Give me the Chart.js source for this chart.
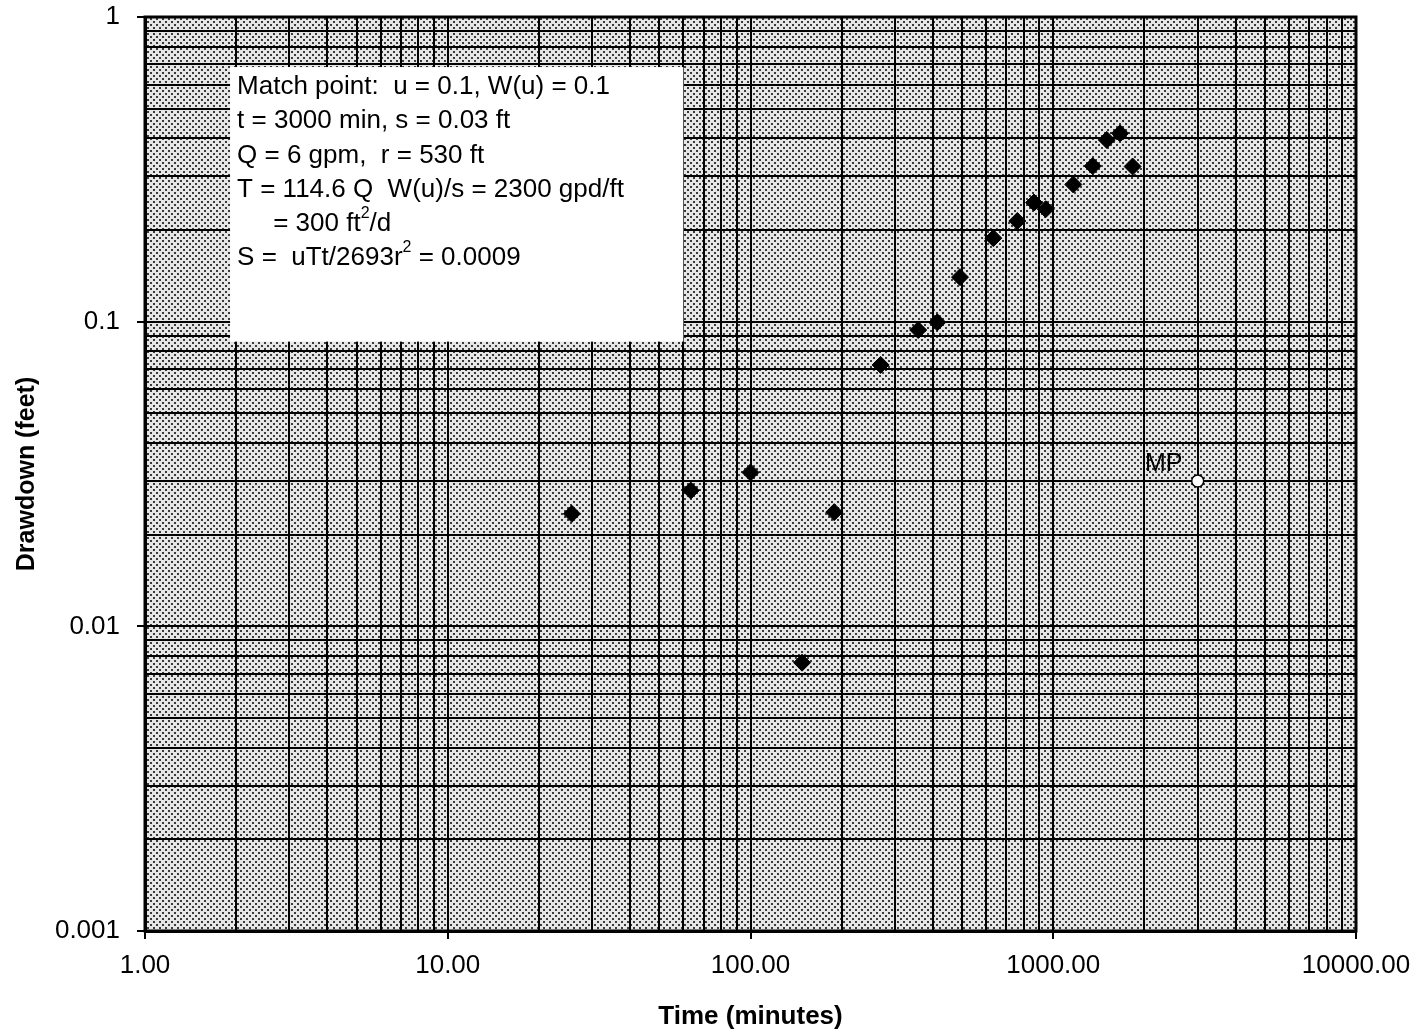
<!DOCTYPE html>
<html lang="en">
<head>
    <meta charset="UTF-8">
    <title>Drawdown vs Time</title>
    <style>
        body {
            margin: 0;
            background-color: #fff;
        }
        .chart-container {
            width: 1418px;
            height: 1036px;
        }
    </style>
</head>
<body>
    <div class="chart-container">
        <canvas id="drawdownChart"></canvas>
    </div>

    <script src="https://cdn.jsdelivr.net/npm/chart.js"></script>

    <script>
        // observed drawdown
        const timeMin = [25.7, 63.5, 100, 148, 189, 269, 358, 414, 492, 634, 761, 864, 944, 1165, 1350, 1502, 1662, 1829];
        const drawdownFt = [0.0234, 0.0279, 0.0320, 0.0076, 0.0237, 0.0721, 0.0939, 0.0995, 0.140, 0.188, 0.214, 0.246, 0.234, 0.282, 0.324, 0.395, 0.415, 0.323];

        // match point
        const matchTime = [3000];
        const matchDrawdown = [0.03];
        const matchLabel = 'MP';

        // grid / tick values (log cycles)
        const xDecades = [1, 10, 100, 1000];
        const yDecades = [0.001, 0.01, 0.1];
        const cycleSteps = [1, 2, 3, 4, 5, 6, 7, 8, 9];
        const xTickValues = xDecades.flatMap(d => cycleSteps.map(s => d * s)).concat([10000]);
        const yTickValues = yDecades.flatMap(d => cycleSteps.map(s => +(d * s).toPrecision(3))).concat([1]);

        const noteLines = [
            [['Match point:  u = 0.1, W(u) = 0.1']],
            [['t = 3000 min, s = 0.03 ft']],
            [['Q = 6 gpm,  r = 530 ft']],
            [['T = 114.6 Q  W(u)/s = 2300 gpd/ft']],
            [['     = 300 ft'], ['2', true], ['/d']],
            [['S =  uTt/2693r'], ['2', true], [' = 0.0009']]
        ];

        const FONT = '"Liberation Sans", Arial, sans-serif';

        function isDecade(v) {
            const l = Math.log10(v);
            return Math.abs(l - Math.round(l)) < 1e-9;
        }

        // halftone-ish background like the scanned graph paper
        function makePattern() {
            const c = document.createElement('canvas');
            c.width = 6;
            c.height = 6;
            const p = c.getContext('2d');
            p.fillStyle = '#e6e6e6';
            p.fillRect(0, 0, 6, 6);
            p.fillStyle = '#3a3a3a';
            p.fillRect(0, 0, 2, 2);
            p.fillRect(3, 3, 2, 2);
            return p.createPattern(c, 'repeat');
        }

        const paperPlugin = {
            id: 'paper',
            beforeDraw(chart) {
                const { ctx, chartArea: a } = chart;
                ctx.save();
                ctx.fillStyle = '#fff';
                ctx.fillRect(0, 0, chart.width, chart.height);
                ctx.fillStyle = makePattern();
                ctx.fillRect(a.left, a.top, a.right - a.left, a.bottom - a.top);
                ctx.restore();
            },
            beforeDatasetsDraw(chart) {
                // note box with match point results
                const { ctx, scales: { x, y } } = chart;
                const left = x.getPixelForValue(1.91);
                const right = x.getPixelForValue(60);
                const top = y.getPixelForValue(0.685);
                const bottom = y.getPixelForValue(0.086);
                ctx.save();
                ctx.fillStyle = '#fff';
                ctx.fillRect(left, top, right - left, bottom - top);
                ctx.fillStyle = '#000';
                ctx.textBaseline = 'middle';
                ctx.textAlign = 'left';
                noteLines.forEach((parts, i) => {
                    let cx = left + 7;
                    const cy = top + 20 + i * 34.2;
                    parts.forEach(([txt, sup]) => {
                        ctx.font = sup ? '16px ' + FONT : '26px ' + FONT;
                        ctx.fillText(txt, cx, sup ? cy - 10 : cy);
                        cx += ctx.measureText(txt).width;
                    });
                });
                ctx.restore();
            },
            afterDraw(chart) {
                const { ctx, chartArea: a, scales: { x, y } } = chart;
                ctx.save();
                ctx.strokeStyle = '#000';
                ctx.lineWidth = 3;
                ctx.strokeRect(a.left, a.top, a.right - a.left, a.bottom - a.top);
                // match point label
                const px = x.getPixelForValue(matchTime[0]);
                const py = y.getPixelForValue(matchDrawdown[0]);
                ctx.fillStyle = '#000';
                ctx.font = '25px ' + FONT;
                ctx.textAlign = 'center';
                ctx.textBaseline = 'middle';
                ctx.fillText(matchLabel, px - 34, py - 17);
                ctx.restore();
            }
        };

        const ctx = document.getElementById('drawdownChart').getContext('2d');
        new Chart(ctx, {
            type: 'scatter',
            data: {
                datasets: [{
                    label: 'Drawdown',
                    data: timeMin.map((t, i) => ({ x: t, y: drawdownFt[i] })),
                    pointStyle: 'rectRot',
                    pointRadius: 8.5,
                    backgroundColor: '#000',
                    borderColor: '#000',
                    borderWidth: 1
                }, {
                    label: 'Match point',
                    data: matchTime.map((t, i) => ({ x: t, y: matchDrawdown[i] })),
                    pointStyle: 'circle',
                    pointRadius: 6,
                    backgroundColor: '#fff',
                    borderColor: '#000',
                    borderWidth: 1.5
                }]
            },
            options: {
                responsive: true,
                maintainAspectRatio: false,
                animation: false,
                layout: {
                    padding: { left: 0, right: 62, top: 17, bottom: 0 }
                },
                plugins: {
                    legend: { display: false },
                    tooltip: { enabled: false }
                },
                scales: {
                    x: {
                        type: 'logarithmic',
                        min: 1,
                        max: 10000,
                        afterBuildTicks: scale => {
                            scale.ticks = xTickValues.map(v => ({ value: v }));
                        },
                        afterFit: scale => {
                            scale.height = 105;
                            scale.paddingLeft = 0;
                            scale.paddingRight = 0;
                        },
                        ticks: {
                            autoSkip: false,
                            maxRotation: 0,
                            padding: 11,
                            color: '#000',
                            font: { family: FONT, size: 26 },
                            callback: v => isDecade(v) ? Number(v).toFixed(2) : ''
                        },
                        grid: {
                            color: '#000',
                            lineWidth: 2,
                            tickLength: 8,
                            tickColor: c => (c.tick && isDecade(c.tick.value)) ? '#000' : 'rgba(0,0,0,0)'
                        },
                        border: { display: true, color: '#000', width: 3 },
                        title: {
                            display: true,
                            text: 'Time (minutes)',
                            color: '#000',
                            padding: { top: 4, bottom: 4 },
                            font: { family: FONT, size: 26, weight: 'bold' }
                        }
                    },
                    y: {
                        type: 'logarithmic',
                        min: 0.001,
                        max: 1,
                        afterBuildTicks: scale => {
                            scale.ticks = yTickValues.map(v => ({ value: v }));
                        },
                        afterFit: scale => {
                            scale.width = 145;
                            scale.paddingTop = 0;
                            scale.paddingBottom = 0;
                        },
                        ticks: {
                            autoSkip: false,
                            padding: 17,
                            color: '#000',
                            font: { family: FONT, size: 26 },
                            callback: v => isDecade(v) ? String(Number(v)) : ''
                        },
                        grid: {
                            color: '#000',
                            lineWidth: 2,
                            tickLength: 8,
                            tickColor: c => (c.tick && isDecade(c.tick.value)) ? '#000' : 'rgba(0,0,0,0)'
                        },
                        border: { display: true, color: '#000', width: 3 },
                        title: {
                            display: true,
                            text: 'Drawdown (feet)',
                            color: '#000',
                            padding: { top: 12, bottom: 0 },
                            font: { family: FONT, size: 25, weight: 'bold' }
                        }
                    }
                }
            },
            plugins: [paperPlugin]
        });
    </script>
</body>
</html>
